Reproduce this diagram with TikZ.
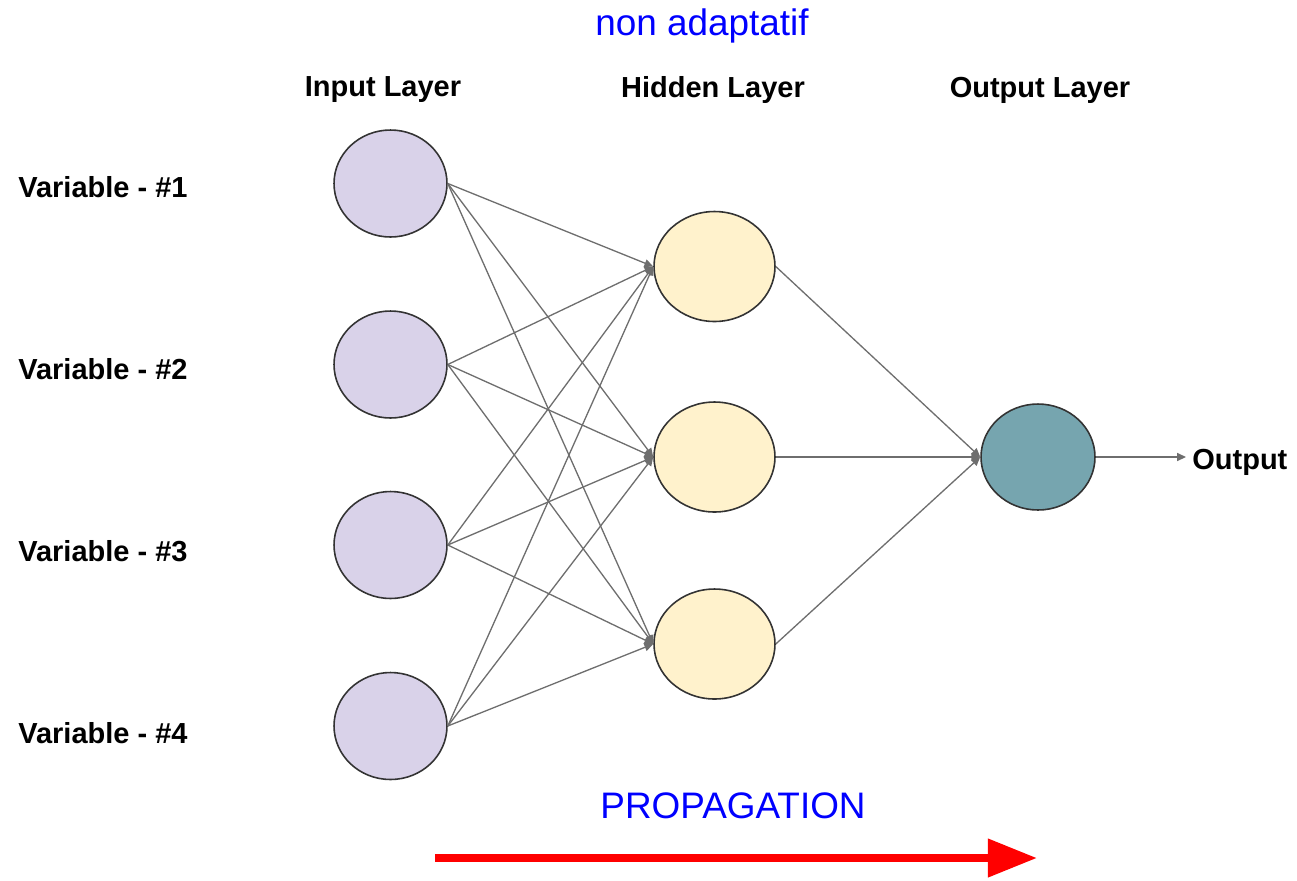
\documentclass[tikz,border=0pt]{standalone}
\usepackage{fontspec}
\setmainfont{Liberation Sans}
\usetikzlibrary{shapes.geometric,arrows.meta}
\definecolor{inpfill}{HTML}{D9D2E9}
\definecolor{hidfill}{HTML}{FFF2CC}
\definecolor{outfill}{HTML}{76A5AF}
\definecolor{edgecol}{HTML}{6E6E6E}
\definecolor{rimcol}{HTML}{333333}
\tikzset{
  neuron/.style={ellipse, draw=rimcol, line width=0.9pt, inner sep=0pt},
  inp/.style={neuron, fill=inpfill, minimum width=2.26cm, minimum height=2.14cm},
  hid/.style={neuron, fill=hidfill, minimum width=2.42cm, minimum height=2.2cm},
  outn/.style={neuron, fill=outfill, minimum width=2.28cm, minimum height=2.12cm},
  lbl/.style={font=\fontsize{16.5}{19}\selectfont\bfseries, text=black, inner sep=0pt},
  bluetxt/.style={font=\fontsize{21}{24}\selectfont, text=blue, inner sep=0pt},
  conn/.style={draw=edgecol, line width=0.75pt, -{Triangle[length=5pt,width=4.5pt]}},
  redarrow/.style={draw=red, fill=red, line width=4.5pt, -{Triangle[length=28pt,width=21pt]}}
}
\begin{document}
\begin{tikzpicture}[x=0.02cm,y=-0.02cm]
\useasboundingbox (0,0) rectangle (1297,880);
% titles
\node[bluetxt] (title) at (702,26) {non adaptatif};
\node[lbl] (tin) at (383,90) {Input Layer};
\node[lbl] (thid) at (713,90) {Hidden Layer};
\node[lbl] (tout) at (1040,90) {Output Layer};
% input nodes
\node[inp] (i1) at (390.5,183.5) {};
\node[inp] (i2) at (390.5,364.5) {};
\node[inp] (i3) at (390.5,545) {};
\node[inp] (i4) at (390.5,726) {};
% hidden nodes
\node[hid] (h1) at (714.5,266.5) {};
\node[hid] (h2) at (714.5,457) {};
\node[hid] (h3) at (714.5,644) {};
% output node
\node[outn] (o) at (1038,457) {};
% variable labels
\node[lbl, anchor=west] (v1) at (18,187) {Variable - \#1};
\node[lbl, anchor=west] (v2) at (18,369) {Variable - \#2};
\node[lbl, anchor=west] (v3) at (18,551) {Variable - \#3};
\node[lbl, anchor=west] (v4) at (18,733) {Variable - \#4};
% connections
\foreach \i in {1,2,3,4}{
  \foreach \h in {1,2,3}{
    \draw[conn] (i\i.east) -- (h\h.west);
  }
}
\foreach \h in {1,2,3}{
  \draw[conn] (h\h.east) -- (o.west);
}
\coordinate (oend) at (1186,457);
\draw[conn] (o.east) -- (oend);
\node[lbl, anchor=west] (outlbl) at (1192,462) {Output};
% propagation
\node[bluetxt] (prop) at (733,806) {PROPAGATION};
\coordinate (ra) at (435,858);
\coordinate (rb) at (1037,858);
\draw[redarrow] (ra) -- (rb);
\end{tikzpicture}
\end{document}
